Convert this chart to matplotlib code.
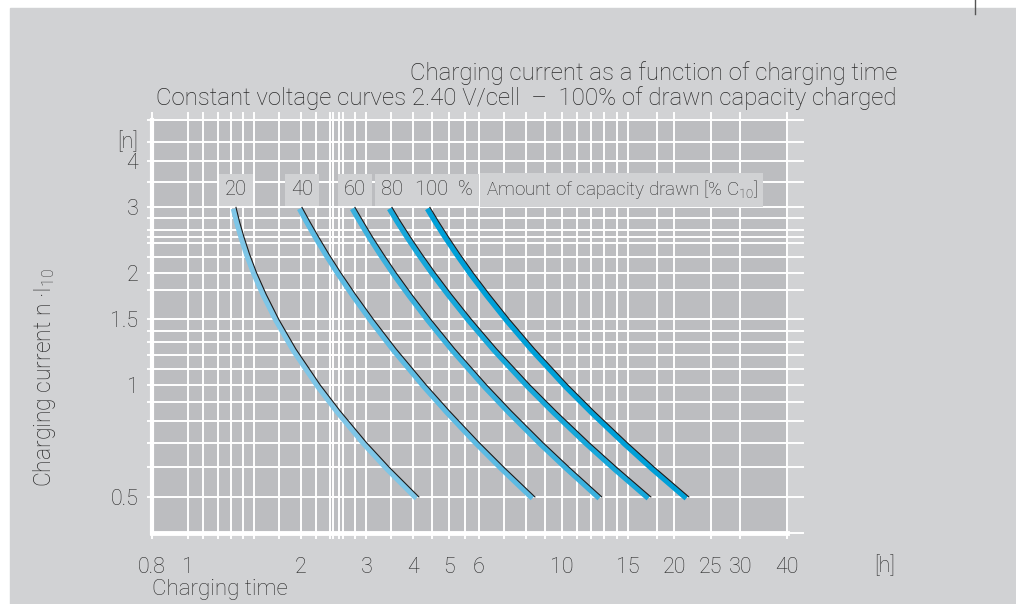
import matplotlib
matplotlib.use("Agg")
import matplotlib.pyplot as plt
from matplotlib import transforms
from matplotlib.patches import Rectangle
from matplotlib.lines import Line2D
from matplotlib.ticker import NullFormatter

plt.rcParams['font.family'] = ['Roboto', 'DejaVu Sans']
plt.rcParams['font.weight'] = 'light'
plt.rcParams['mathtext.fontset'] = 'custom'
plt.rcParams['mathtext.rm'] = 'Roboto:light'
plt.rcParams['mathtext.default'] = 'regular'

# charging current levels n (multiples of I10)
n_levels = [3, 2.75, 2.5, 2.25, 2, 1.75, 1.5, 1.25, 1, 0.85, 0.7, 0.6, 0.5]

# charging time [h] for each curve at the levels above
hours_20 = [1.344, 1.373, 1.411, 1.460, 1.526, 1.619, 1.749, 1.942, 2.257, 2.555, 3.001, 3.458, 4.146]
hours_40 = [2.018, 2.116, 2.234, 2.379, 2.564, 2.806, 3.133, 3.601, 4.335, 5.008, 6.009, 7.006, 8.472]
hours_60 = [2.796, 2.941, 3.113, 3.330, 3.604, 3.967, 4.460, 5.169, 6.289, 7.331, 8.897, 10.47, 12.79]
hours_80 = [3.512, 3.700, 3.932, 4.219, 4.584, 5.068, 5.728, 6.687, 8.213, 9.650, 11.82, 14.02, 17.30]
hours_100 = [4.437, 4.676, 4.969, 5.331, 5.792, 6.404, 7.237, 8.449, 10.37, 12.19, 14.94, 17.70, 21.86]

curve_labels = ['20', '40', '60', '80', '100  %']
curve_colors = ['#7fc6e7', '#5dbbe3', '#3bb1de', '#17a7da', '#00a0d8']

x_tick_vals = [0.8, 1, 2, 3, 4, 5, 6, 10, 15, 20, 25, 30, 40]
x_tick_text = ['0.8', '1', '2', '3', '4', '5', '6', '10', '15', '20', '25', '30', '40']
x_grid_vals = [1.1, 1.2, 1.3, 1.4, 1.5, 1.75, 2.2, 2.4, 2.45, 2.53, 2.6, 2.8, 3.5,
               4.5, 5.5, 7, 8, 9, 11, 12, 13, 14, 18]
y_tick_vals = [0.5, 1, 1.5, 2, 3, 4]
y_tick_text = ['0.5', '1', '1.5', '2', '3', '4']
y_grid_vals = [0.6, 0.7, 0.8, 0.9, 1.1, 1.2, 1.3, 1.4, 1.8, 2.2, 2.4, 2.5, 2.6, 2.8,
               3.5, 4.5, 5.15]

BG = '#d1d2d4'
PLOT_BG = '#bcbdc0'
TXT = '#2a2a2a'
W, H = 1016, 604


def make_figure():
    fig = plt.figure(figsize=(W / 100, H / 100), dpi=100, facecolor='white')
    fig.patches.append(Rectangle((10 / W, 0), 1 - 10 / W, 1 - 8 / H,
                                 transform=fig.transFigure, color=BG, zorder=-5))
    fig.lines.append(Line2D([975 / W, 975 / W], [1, 1 - 14 / H],
                            transform=fig.transFigure, color='#555555', lw=1))
    left, right, top, bottom = 151.75, 787.0, 120.0, 533.0
    ax = fig.add_axes([left / W, 1 - bottom / H, (right - left) / W, (bottom - top) / H])
    return fig, ax, (right - left), (bottom - top)


def style_axes(ax, ax_w, ax_h):
    ax.set_facecolor(PLOT_BG)
    ax.set_xscale('log')
    ax.set_yscale('log')
    ax.set_xlim(0.8, 40)
    ax.set_ylim(0.4, 5.15)

    ax.set_xticks(x_tick_vals, labels=x_tick_text)
    ax.set_xticks(x_grid_vals, minor=True)
    ax.set_yticks(y_tick_vals, labels=y_tick_text)
    ax.set_yticks(y_grid_vals, minor=True)
    ax.xaxis.set_minor_formatter(NullFormatter())
    ax.yaxis.set_minor_formatter(NullFormatter())

    ax.grid(which='both', color='white', lw=1.4)
    ax.set_axisbelow(True)
    ax.tick_params(axis='x', which='both', direction='out', color='white', width=1.4,
                   length=4.5, pad=13, labelsize=15.5, labelcolor=TXT)
    ax.tick_params(axis='y', which='both', direction='out', color='white', width=1.4,
                   length=3.6, pad=6, labelsize=15.5, labelcolor=TXT)

    for side in ['left', 'bottom']:
        ax.spines[side].set_color('white')
    ax.spines['left'].set_linewidth(3)
    ax.spines['bottom'].set_linewidth(3.5)
    ax.spines['top'].set_color('white')
    ax.spines['top'].set_linewidth(1.4)
    ax.spines['right'].set_color('white')
    ax.spines['right'].set_linewidth(1.4)

    # grid lines run a little past the top and right edges
    xt = transforms.blended_transform_factory(ax.transData, ax.transAxes)
    for xv in x_tick_vals + x_grid_vals:
        ax.plot([xv, xv], [1, 1 + 7 / ax_h], transform=xt, color='white',
                lw=1.4, clip_on=False)
    yt = transforms.blended_transform_factory(ax.transAxes, ax.transData)
    for yv in y_tick_vals + y_grid_vals + [0.4]:
        ax.plot([1, 1 + 16 / ax_w], [yv, yv], transform=yt, color='white',
                lw=1.4, clip_on=False)


def plot_curves(fig, ax):
    shifted = transforms.offset_copy(ax.transData, fig=fig, x=-2.6, y=-1.4, units='dots')
    series = [hours_20, hours_40, hours_60, hours_80, hours_100]
    for hours, color, label in zip(series, curve_colors, curve_labels):
        ax.plot(hours, n_levels, color=color, lw=3.8, transform=shifted,
                solid_capstyle='butt', zorder=3)
        ax.plot(hours, n_levels, color='#1a1a1a', lw=0.8, zorder=4)
        ha = 'left' if label.startswith('100') else 'center'
        xpos = hours[0] * 0.91 if ha == 'left' else hours[0]
        ax.text(xpos, 3.34, label, ha=ha, va='center', fontsize=14.5, color=TXT,
                bbox=dict(boxstyle='square,pad=0.3', fc=BG, ec='none'), zorder=5)
    ax.text(6.25, 3.34, 'Amount of capacity drawn [% C$_{10}$]', ha='left', va='center',
            fontsize=13.5, color=TXT,
            bbox=dict(boxstyle='square,pad=0.3', fc=BG, ec='none'), zorder=5)


def add_labels(fig):
    fig.text(897 / W, 1 - 73 / H, 'Charging current as a function of charging time',
             ha='right', va='center', fontsize=17.3, color=TXT)
    fig.text(897 / W, 1 - 98 / H,
             'Constant voltage curves 2.40 V/cell  \u2013  100% of drawn capacity charged',
             ha='right', va='center', fontsize=17.3, color=TXT)
    fig.text(45 / W, 1 - 377 / H, 'Charging current n \u00b7I$_{10}$', rotation=90,
             ha='center', va='center', fontsize=16.5, color=TXT)
    fig.text(152 / W, 1 - 590 / H, 'Charging time', ha='left', va='center',
             fontsize=16, color=TXT)
    fig.text(885 / W, 1 - 566 / H, '[h]', ha='center', va='center', fontsize=15.5, color=TXT)
    fig.text(138 / W, 1 - 142 / H, '[n]', ha='right', va='center', fontsize=15.5, color=TXT)


if __name__ == "__main__":
    fig, ax, ax_w, ax_h = make_figure()
    style_axes(ax, ax_w, ax_h)
    plot_curves(fig, ax)
    add_labels(fig)
    fig.savefig('out.png', dpi=100, facecolor=fig.get_facecolor())
